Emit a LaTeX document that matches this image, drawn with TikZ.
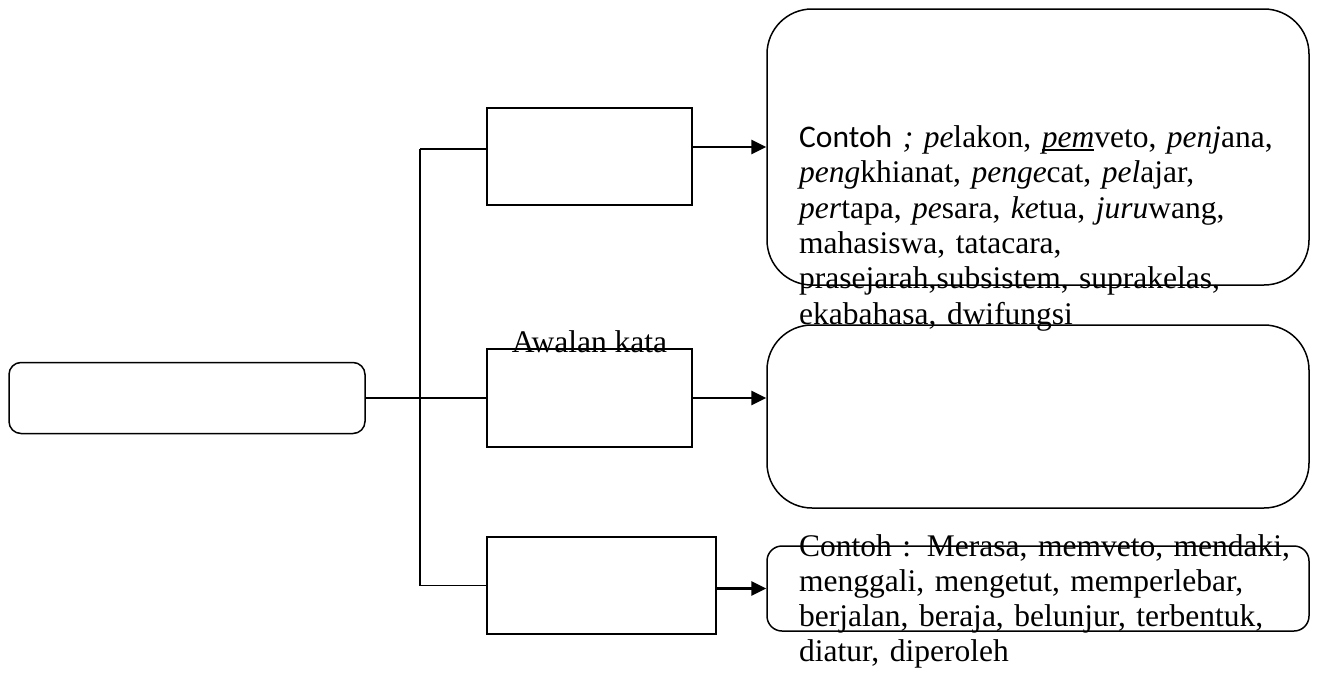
\documentclass[tikz,border=0pt]{standalone}
\usepackage{fontspec}
\setmainfont{Liberation Serif}
\newfontfamily\calibri{Carlito}
\usetikzlibrary{arrows.meta,positioning,calc}
\newcommand\garisbawah[1]{\leavevmode\setbox0\hbox{#1}\rlap{\rule[-0.1em]{\wd0}{0.045em}}\box0}
\tikzset{
  kotak/.style={draw,line width=1.5pt,rectangle,inner sep=0pt},
  bulat/.style={draw,line width=1.5pt,rectangle,rounded corners=#1,inner sep=0pt},
  garis/.style={line width=1.5pt},
  panah/.style={line width=2.8pt,-{Triangle[length=15pt,width=14pt]}},
  isi/.style={inner sep=0pt,anchor=base west,align=left,text width=540pt,
    font=\fontsize{31.5}{35.3}\selectfont},
  judul/.style={inner sep=0pt,anchor=base,font=\fontsize{31.5}{35.3}\selectfont},
}

\begin{document}
\begin{tikzpicture}[x=1pt,y=-1pt]
\useasboundingbox (0,0) rectangle (1318,675);
% kotak induk dan tiga cabang
\node[bulat=12pt,minimum width=356pt,minimum height=71pt] (induk) at (187,398) {};
\node[kotak,minimum width=205pt,minimum height=97pt] (kotakA) at (589.5,156.5) {};
\node[kotak,minimum width=205pt,minimum height=98pt] (kotakB) at (589.5,398) {};
\node[kotak,minimum width=229pt,minimum height=97pt] (kotakC) at (601.5,585.5) {};
\node[judul] (awalan) at ([yshift=-4pt]kotakB.north) {Awalan kata};
% kotak contoh
\node[bulat=45pt,minimum width=542pt,minimum height=276pt] (contohA) at (1038,147) {};
\node[bulat=45pt,minimum width=542pt,minimum height=183pt] (contohB) at (1038,416.5) {};
\node[bulat=15pt,minimum width=542pt,minimum height=85pt] (contohC) at (1038,588.5) {};
\node[isi] (teksA) at (799,147.5) {{\calibri Contoh} \textit{;} \textit{pe}lakon, \garisbawah{\textit{pem}}veto, \textit{penj}ana,\\
  \textit{peng}khianat, \textit{penge}cat, \textit{pel}ajar,\\
  \textit{per}tapa, \textit{pe}sara, \textit{ke}tua, \textit{juru}wang,\\
  mahasiswa, tatacara,\\
  prasejarah,subsistem, suprakelas,\\
  ekabahasa, dwifungsi};
\node[isi] (teksC) at (799,556) {Contoh : Merasa, memveto, mendaki,\\
  menggali, mengetut, memperlebar,\\
  berjalan, beraja, belunjur, terbentuk,\\
  diatur, diperoleh};
% garis penghubung
\coordinate (cabangA) at (420,149);
\coordinate (cabangC) at (420,585.5);
\draw[garis] (cabangA) -- (cabangC);
\draw[garis] (cabangA) -- (cabangA -| kotakA.west);
\draw[garis] (cabangC) -- (kotakC.west);
\draw[garis] (induk.east) -- (kotakB.west);
\draw[panah] (kotakA.east |- contohA.west) -- (contohA.west);
\draw[panah] (kotakB.east) -- (kotakB.east -| contohB.west);
\draw[panah] (kotakC.east |- contohC.west) -- (contohC.west);
\end{tikzpicture}
\end{document}
